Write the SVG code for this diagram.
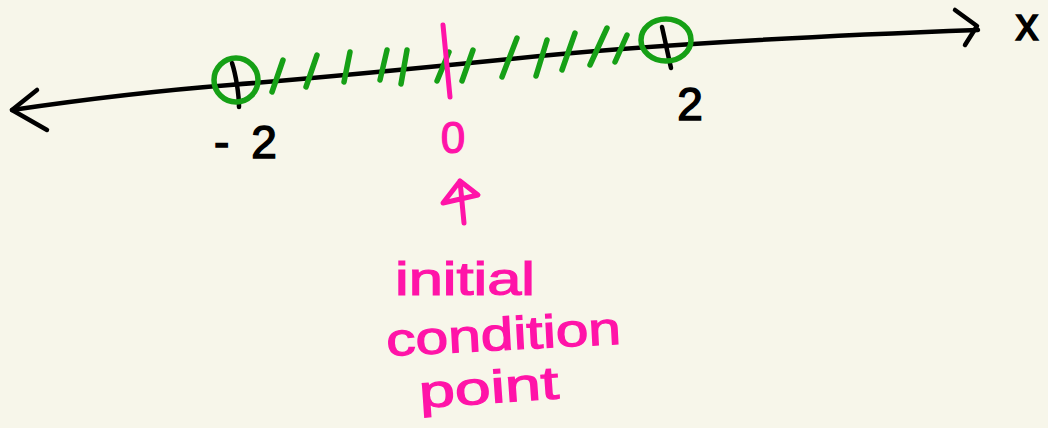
<svg xmlns="http://www.w3.org/2000/svg" width="1048" height="428" viewBox="0 0 1048 428">
<style>
.ink{fill:none;stroke-linecap:round;stroke-linejoin:round}
.blk{stroke:#000;stroke-width:4.5}
.grn{stroke:#16a016;stroke-width:5.5}
.pnk{stroke:#ff14a8;stroke-width:5}
.tb{fill:#000;stroke:#000;stroke-width:1.5;font-family:"Liberation Sans",sans-serif}
.tp{fill:#ff14a8;stroke:#ff14a8;stroke-width:1.2;font-family:"Liberation Sans",sans-serif}
</style>
<rect width="1048" height="428" fill="#f7f6ea"/>
<g id="connectors">
<path class="ink blk" d="M12,110 C80,100 140,92 230,85 C330,77 420,68 500,60 C620,47 760,38 978,30"/>
<path class="ink blk" d="M37,90 L12,110 L47,130"/>
<path class="ink blk" d="M955,10 L977,26 L965,45"/>
<path class="ink pnk" d="M464,223 L460,181 M443,203 L460,181 L478,195 Z"/>
</g>
<g id="axis-x"><text class="tb" x="1027" y="40" font-size="46" text-anchor="middle">x</text></g>
<g id="point-neg2">
<path class="ink blk" d="M232,63 C236,75 239,95 239,107"/>
<ellipse class="ink grn" cx="236" cy="80" rx="22" ry="22"/>
<text class="tb" x="214" y="158" font-size="46" letter-spacing="22">-2</text>
</g>
<g id="point-2">
<path class="ink blk" d="M662,27 C665,40 668,55 671,68"/>
<ellipse class="ink grn" cx="666" cy="40" rx="25" ry="21"/>
<text class="tb" x="690" y="120" font-size="46" text-anchor="middle">2</text>
</g>
<g id="hatches">
<path class="ink grn" d="M283,60 L272,92 M317,55 L306,87 M350,52 L344,82 M387,50 L380,80 M407,50 L401,84 M449,52 L437,81 M473,50 L462,81 M517,38 L502,77 M547,40 L536,76 M575,33 L562,70 M607,28 L590,65 M627,35 L615,62"/>
</g>
<g id="zero">
<path class="ink pnk" d="M443,25 L450,97"/>
<text class="tp" x="453" y="153" font-size="44" text-anchor="middle">0</text>
</g>
<g id="label">
<text class="tp" x="395" y="295" font-size="46" textLength="140" lengthAdjust="spacingAndGlyphs">initial</text>
<text class="tp" x="387" y="356" font-size="46" textLength="235" lengthAdjust="spacingAndGlyphs" transform="rotate(-3 387 356)">condition</text>
<text class="tp" x="420" y="408" font-size="46" textLength="140" lengthAdjust="spacingAndGlyphs" transform="rotate(-4 420 408)">point</text>
</g>
</svg>
